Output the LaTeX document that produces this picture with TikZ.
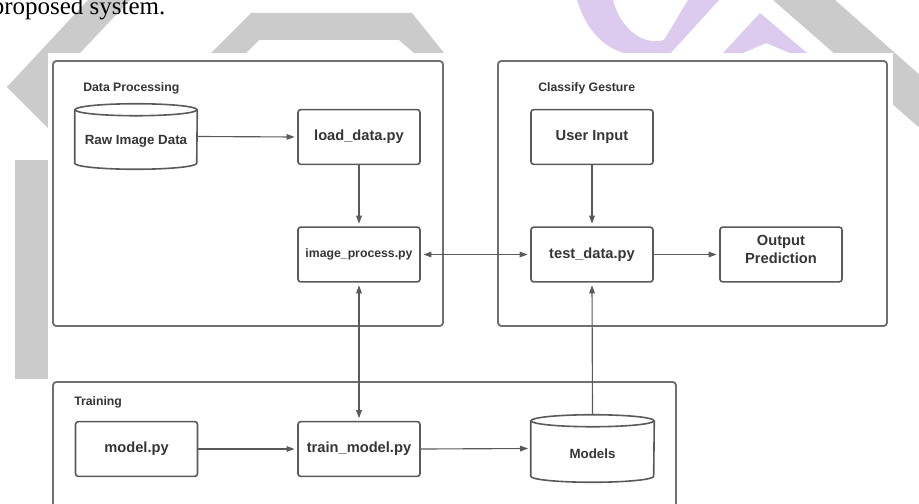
\documentclass[tikz,border=0pt]{standalone}
\usepackage{fontspec}
\setmainfont{Liberation Serif}
\newfontfamily\diafont{Liberation Sans}
\usetikzlibrary{arrows.meta}
\definecolor{wmgrey}{HTML}{CBCBCB}
\definecolor{wmlav}{HTML}{DCCBEE}
\definecolor{linec}{HTML}{5A5A5A}
\definecolor{framec}{HTML}{707070}
\definecolor{txtc}{HTML}{363636}
\begin{document}
\begin{tikzpicture}[x=0.75pt,y=-0.75pt,
  group/.style={draw=framec, line width=1.4pt, rounded corners=2.5pt},
  grouplabel/.style={anchor=base west, inner sep=0pt, text=txtc, font=\diafont\bfseries\fontsize{9.2}{11}\selectfont},
  pbox/.style={draw=linec, line width=1.2pt, rounded corners=2pt, minimum width=91.5pt, minimum height=41pt, inner sep=0pt, text=txtc, align=center, font=\diafont\bfseries\fontsize{11}{13.5}\selectfont},
  smallbox/.style={pbox, font=\diafont\bfseries\fontsize{9.2}{11}\selectfont},
  emptybox/.style={draw=linec, line width=1.2pt, rounded corners=2pt, minimum width=91.5pt, minimum height=41pt, inner sep=0pt},
  boxtext/.style={inner sep=0pt, text=txtc, align=center, font=\diafont\bfseries\fontsize{11}{13.5}\selectfont},
  cylarea/.style={inner sep=0pt, minimum width=#1},
  cyl/.style={draw=linec, line width=1.2pt},
  cyltext/.style={inner sep=0pt, text=txtc, font=\diafont\bfseries\fontsize{10}{12}\selectfont},
  conn/.style={draw=linec, line width=0.85pt, -{Triangle[length=6pt,width=4.2pt]}, shorten >=2pt},
  dconn/.style={draw=linec, line width=0.85pt, {Triangle[length=6pt,width=4.2pt]}-{Triangle[length=6pt,width=4.2pt]}, shorten >=2pt, shorten <=2pt}
]
\clip (0,0) rectangle (919,503);
\fill[white] (0,0) rectangle (919,503);
% watermark shapes behind the pasted figure
\fill[wmgrey] (88,0) -- (130,0) -- (48,87) -- (48,128) -- (7,87) -- cycle;
\fill[wmgrey] (15,160) rectangle (48,379);
\fill[wmgrey] (211,53) -- (251,13) -- (412,13) -- (444,53) -- (414,53) -- (399,40) -- (259,40) -- (246,53) -- cycle;
\fill[wmgrey] (773,0) -- (835,0) -- (930,84) -- (930,137) -- cycle;
\fill[wmlav] (577,0) .. controls (588,35) and (610,56) .. (645,56) -- (668,56) -- (719,0) -- (688,0) -- (664,40) .. controls (642,46) and (620,28) .. (613,0) -- cycle;
\fill[wmlav] (723,53) -- (760,13) -- (807,53) -- (790,53) -- (766,43) -- (743,53) -- cycle;
% pasted figure background
\fill[white] (48,53) rectangle (893,503);
% caption fragment
\node[anchor=base west, inner sep=0pt, font=\fontsize{18.75}{22}\selectfont] (cap) at (-8.5,15) {proposed system.};
% groups
\draw[group] (53,61) rectangle (443,326);
\draw[group] (498,61) rectangle (887,326);
\draw[group] (53,382) rectangle (676,520);
\node[grouplabel] (gdp) at (83,91) {Data Processing};
\node[grouplabel] (gcg) at (538,91) {Classify Gesture};
\node[grouplabel] (gtr) at (74,405) {Training};
% process boxes
\node[pbox] (load) at (359,137) {load\_data.py};
\node[smallbox] (imgp) at (359,254.5) {image\_process.py};
\node[pbox] (user) at (592,137) {User Input};
\node[pbox] (test) at (592,254.5) {test\_data.py};
\node[emptybox] (out) at (781,254.5) {};
\node[boxtext] (outt) at ([yshift=3.6pt]out.center) {Output\\Prediction};
\node[pbox] (model) at (136.5,449) {model.py};
\node[pbox] (train) at (359,449) {train\_model.py};
% cylinders
\node[cylarea=91.5pt, minimum height=48.75pt] (raw) at (136,136.5) {};
\draw[cyl] ([yshift=-4.5pt]raw.north) ellipse [x radius=45.75pt, y radius=4.5pt];
\draw[cyl] ([yshift=-4.5pt]raw.north west) -- ([yshift=4.5pt]raw.south west) arc[start angle=180, end angle=360, x radius=45.75pt, y radius=4.5pt] -- ([yshift=-4.5pt]raw.north east);
\node[cyltext] (rawt) at ([yshift=-3.8pt]raw.center) {Raw Image Data};
\node[cylarea=92.25pt, minimum height=50.25pt] (models) at (592.5,448.5) {};
\draw[cyl] ([yshift=-4.5pt]models.north) ellipse [x radius=46.1pt, y radius=4.5pt];
\draw[cyl] ([yshift=-4.5pt]models.north west) -- ([yshift=4.5pt]models.south west) arc[start angle=180, end angle=360, x radius=46.1pt, y radius=4.5pt] -- ([yshift=-4.5pt]models.north east);
\node[cyltext] (modelst) at ([yshift=-4pt]models.center) {Models};
% connectors
\draw[conn] (raw.east) -- (load.west);
\draw[conn] (load.south) -- (imgp.north);
\draw[dconn] (imgp.east) -- (test.west);
\draw[dconn] (imgp.south) -- (train.north);
\draw[conn] (user.south) -- (test.north);
\draw[conn] (test.east) -- (out.west);
\draw[conn] (model.east) -- (train.west);
\draw[conn] (train.east) -- (models.west);
\draw[conn] (models.north) -- (test.south);
\end{tikzpicture}
\end{document}
